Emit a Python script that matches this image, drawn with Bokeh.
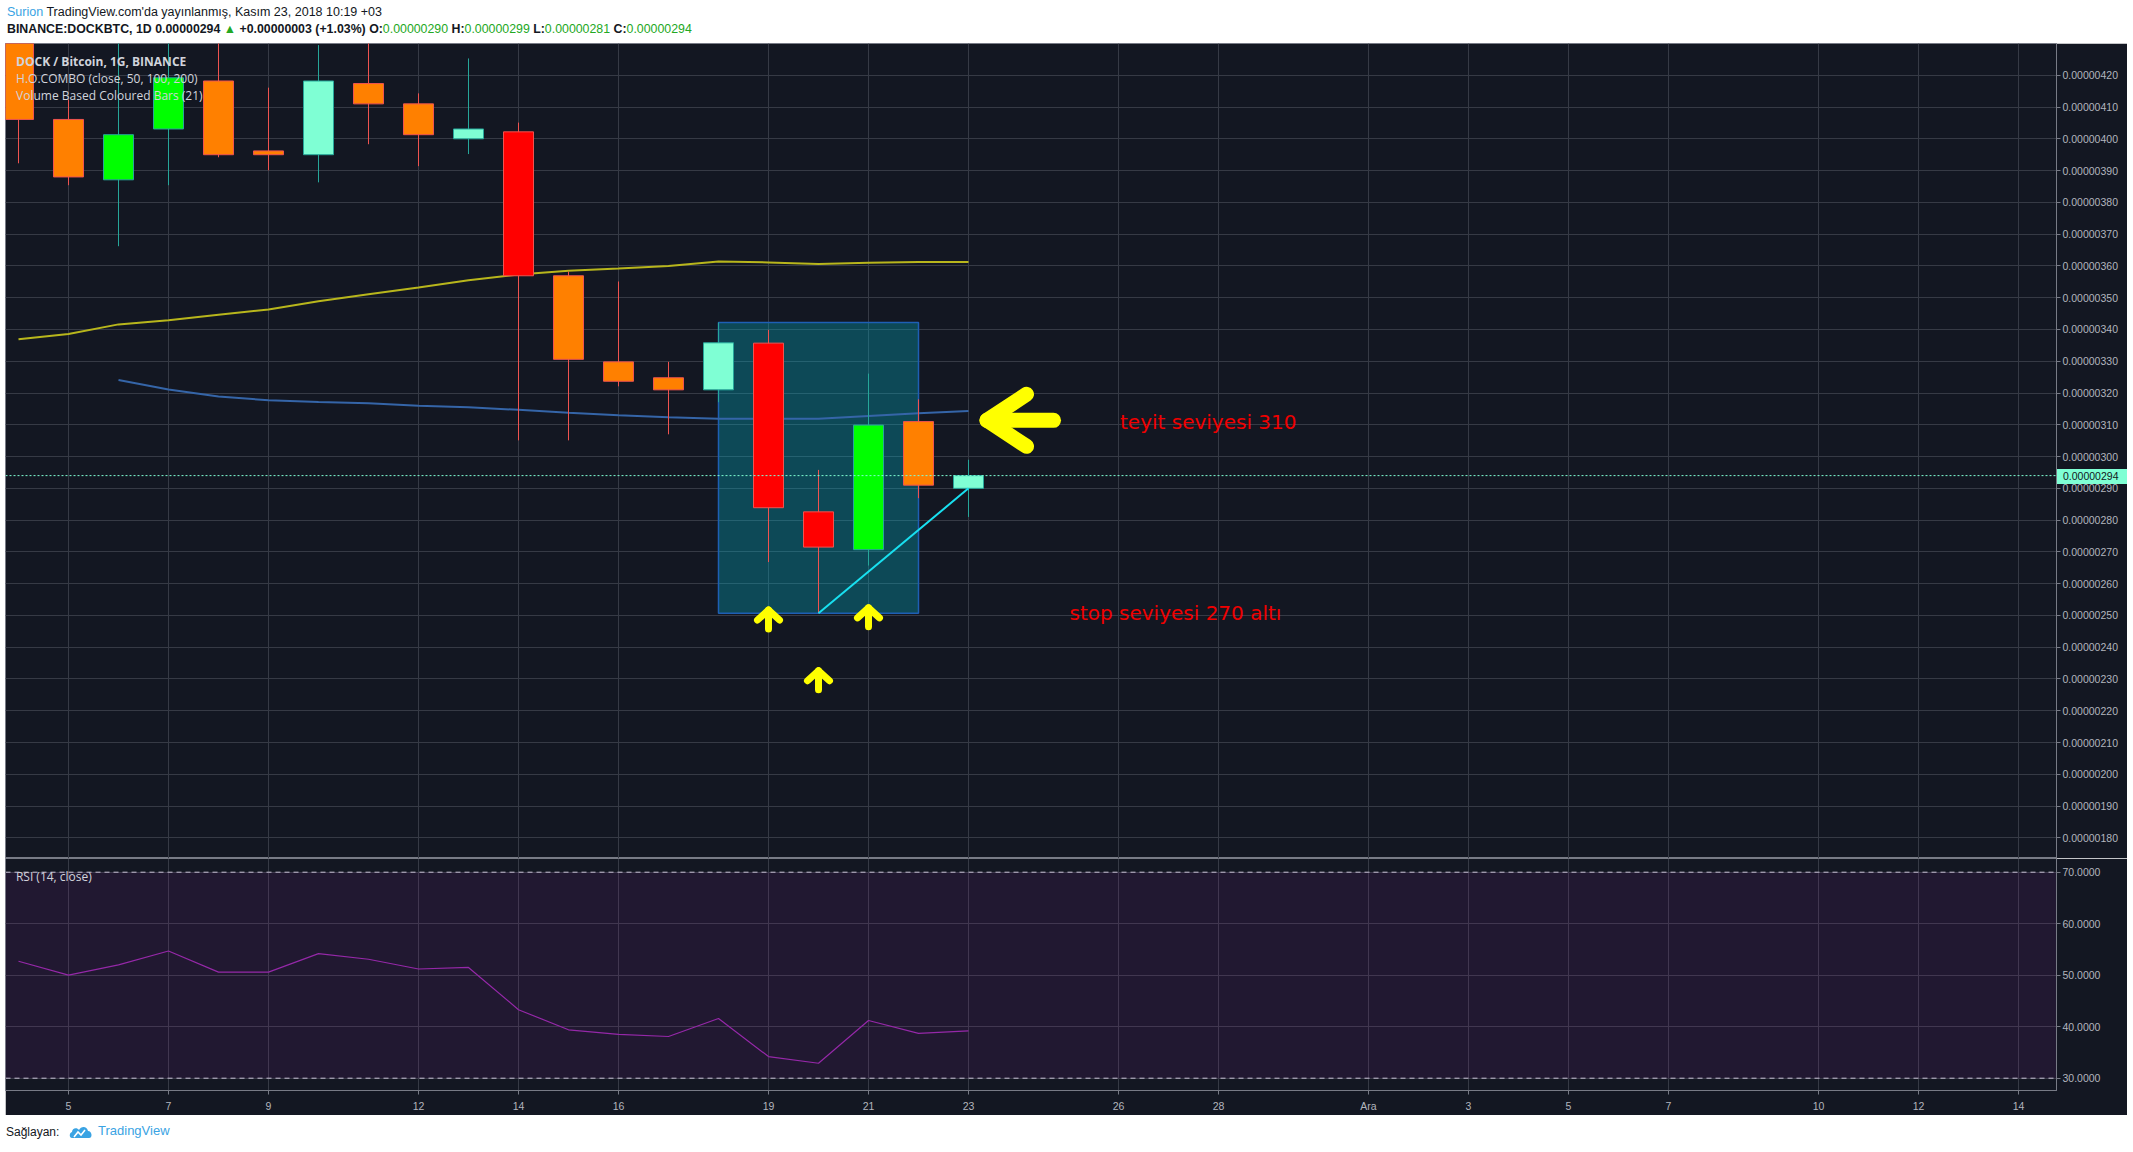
import numpy as np
from bokeh.plotting import figure
from bokeh.layouts import column, row
from bokeh.models import (FixedTicker, CustomJSTickFormatter, Span,
                          BoxAnnotation, Grid, Div, Spacer, Range1d)
from bokeh.core.properties import value
from bokeh.embed import file_html
from bokeh.resources import INLINE

# ---------------- data: DOCK/BTC daily candles, November 2018 (prices in satoshi, 1e-8 BTC) ----
days = [4, 5, 6, 7, 8, 9, 10, 11, 12, 13, 14, 15, 16, 17, 18, 19, 20, 21, 22, 23]  # day of November
opens = [436.0, 406.1, 387.1, 403.1, 418.2, 396.2, 395.0, 417.4, 411.0, 400.0,
         402.2, 356.9, 329.8, 324.8, 321.0, 335.7, 282.6, 270.7, 311.0, 290.0]
highs = [442.0, 412.3, 432.0, 431.0, 433.0, 416.1, 429.5, 432.0, 414.3, 425.3,
         405.1, 358.2, 355.1, 329.8, 342.2, 339.9, 295.8, 326.1, 318.0, 299.0]
lows = [392.3, 385.4, 366.2, 385.4, 394.2, 390.1, 386.3, 398.3, 391.4, 395.2,
        305.1, 305.1, 322.1, 307.0, 317.1, 266.8, 250.7, 265.7, 286.9, 281.0]
closes = [406.1, 388.0, 401.3, 419.2, 395.0, 395.0, 418.2, 411.0, 401.3, 403.1,
          356.9, 330.6, 323.7, 321.0, 335.8, 283.9, 271.5, 309.9, 291.0, 294.0]
high_volume = [False, False, True, True, False, False, False, False, False, False,
               True, False, False, False, False, True, True, True, False, False]

ma50 = [336.9, 338.6, 341.6, 342.9, 344.6, 346.3, 348.9, 351.1, 353.2, 355.5,
        357.3, 358.5, 359.2, 360.0, 361.4, 361.1, 360.6, 361.0, 361.2, 361.2]   # days 4..23
ma100_days = [6, 7, 8, 9, 10, 11, 12, 13, 14, 15, 16, 17, 18, 19, 20, 21, 22, 23]
ma100 = [324.1, 321.1, 318.9, 317.7, 317.2, 316.8, 316.0, 315.5, 314.7, 313.8,
         313.0, 312.4, 311.9, 311.9, 311.9, 312.8, 313.6, 314.3]

rsi = [52.7, 50.0, 52.0, 54.7, 50.6, 50.6, 54.2, 53.1, 51.2, 51.5,
       43.3, 39.4, 38.5, 38.1, 41.6, 34.2, 32.9, 41.2, 38.7, 39.2]             # days 4..23

x_tick_days = [5, 7, 9, 12, 14, 16, 19, 21, 23, 26, 28, 31, 33, 35, 37, 40, 42, 44]
x_tick_labels = ["5", "7", "9", "12", "14", "16", "19", "21", "23", "26", "28",
                 "Ara", "3", "5", "7", "10", "12", "14"]
price_ticks = [180, 190, 200, 210, 220, 230, 240, 250, 260, 270, 280, 290, 300,
               310, 320, 330, 340, 350, 360, 370, 380, 390, 400, 410, 420]
rsi_ticks = [30, 40, 50, 60, 70]
rsi_upper, rsi_lower = 70, 30

# drawings
box_days = (18, 22)                       # rectangle from Nov 18 to Nov 22
box_top = highs[days.index(18)]
box_bottom = lows[days.index(20)]
trend_days = (20, 23)
trend_prices = (lows[days.index(20)], opens[days.index(23)])
up_arrow_days = [19, 20, 21]
up_arrow_tips = [251.7, 232.6, 252.4]
pointer_day, pointer_price = 23.37, 311.4
note_teyit = (26.03, 310.8, "teyit seviyesi 310")
note_stop = (25.02, 250.9, "stop seviyesi 270 altı")

S = 1e-8
BG = "#131722"
GRID = "#363a45"
FRAME = "#787b86"
AXIS_TXT = "#b2b5be"

X0, X1 = 3.74, 44.76
P0, P1 = 173.5, 430.0
R0, R1 = 27.61, 72.66
LEFT_PAD = 5
HEADER_H = 43
FIG_W = 2122
RIGHT = 71
PRICE_H = 815
RSI_FRAME_H = 232
BOTTOM = 25
PX_DAY = (FIG_W - RIGHT) / (X1 - X0)
PX_SAT = PRICE_H / (P1 - P0)
PX_RSI = RSI_FRAME_H / (R1 - R0)

def dx(px):
    return px / PX_DAY

def dy(px):
    return px / PX_SAT

# ---------------- price pane ----------------
p = figure(width=FIG_W, height=PRICE_H, x_range=Range1d(X0, X1), y_range=Range1d(P0 * S, P1 * S),
           output_backend="svg", toolbar_location=None, x_axis_location=None,
           y_axis_location="right", min_border_left=0, min_border_top=0,
           min_border_bottom=0, min_border_right=RIGHT,
           background_fill_color=BG, border_fill_color=BG, outline_line_color=FRAME)

p.yaxis.ticker = FixedTicker(ticks=[t * S for t in price_ticks])
p.yaxis.formatter = CustomJSTickFormatter(code="return tick.toFixed(8);")
for ax in p.yaxis:
    ax.major_tick_out = 4
    ax.major_tick_in = 0
    ax.minor_tick_line_color = None
    ax.axis_line_color = FRAME
    ax.major_tick_line_color = FRAME
    ax.major_label_text_color = AXIS_TXT
    ax.major_label_text_font = "Liberation Sans"
    ax.major_label_text_font_size = "10.5px"
    ax.major_label_standoff = 2
p.ygrid.grid_line_color = GRID
if len(p.xgrid) > 0:
    for g in p.xgrid:
        g.ticker = FixedTicker(ticks=x_tick_days)
        g.grid_line_color = GRID
else:
    p.add_layout(Grid(dimension=0, ticker=FixedTicker(ticks=x_tick_days), grid_line_color=GRID))

# rectangle drawing
p.quad(left=[box_days[0]], right=[box_days[1]], top=[box_top * S], bottom=[box_bottom * S],
       fill_color="#00bcd4", fill_alpha=0.3, line_color="#1e5fb4", line_width=1.5)

# moving averages
p.line(days, [v * S for v in ma50], line_color="#b8b61c", line_width=2)
p.line(ma100_days, [v * S for v in ma100], line_color="#3565a8", line_width=2)

# candles
bull = [c >= o for o, c in zip(opens, closes)]
body_col = []
for b, hv in zip(bull, high_volume):
    if b:
        body_col.append("#00ff00" if hv else "#7fffd4")
    else:
        body_col.append("#ff0000" if hv else "#ff8000")
edge_col = ["#26a69a" if b else "#ef5350" for b in bull]
p.segment(x0=days, y0=[v * S for v in lows], x1=days, y1=[v * S for v in highs],
          line_color=edge_col, line_width=1)
p.vbar(x=days, width=0.6, top=[max(o, c) * S for o, c in zip(opens, closes)],
       bottom=[min(o, c) * S for o, c in zip(opens, closes)],
       fill_color=body_col, line_color=edge_col, line_width=1)

# trend line
p.line(list(trend_days), [v * S for v in trend_prices], line_color="#18e0f0", line_width=2)

# yellow arrows
xs, ys = [], []
for d, t in zip(up_arrow_days, up_arrow_tips):
    xs.append([d - dx(11), d, d + dx(11)])
    ys.append([(t - dy(10)) * S, t * S, (t - dy(10)) * S])
    xs.append([d, d])
    ys.append([t * S, (t - dy(19)) * S])
p.multi_line(xs, ys, line_color="#ffff00", line_width=7, line_cap="round", line_join="round")
d, t = pointer_day, pointer_price
p.multi_line([[d + dx(39.5), d, d + dx(39.5)], [d, d + dx(66.5)]],
             [[(t + dy(26)) * S, t * S, (t - dy(26)) * S], [t * S, t * S]],
             line_color="#ffff00", line_width=15, line_cap="round", line_join="round")

# notes
for nx, ny, txt in (note_teyit, note_stop):
    p.text(x=[nx], y=[ny * S], text=[txt], text_color="#f00000", text_font=value("DejaVu Sans"),
           text_font_size="20px", text_baseline="middle", text_align="left")

# current price line
last = closes[-1]
p.add_layout(Span(location=last * S, dimension="width", line_color="#7fffd4",
                  line_dash="2 2", line_width=1))

# legend text (top-left)
legend_lines = ["DOCK / Bitcoin, 1G, BINANCE", "H.O.COMBO (close, 50, 100, 200)",
                "Volume Based Coloured Bars (21)"]
for i, (txt, off) in enumerate(zip(legend_lines, [17.7, 35.0, 51.7])):
    p.text(x=[X0 + dx(10.6)], y=[(P1 - dy(off)) * S], text=[txt], text_color="#d1d4dc",
           text_font=value("Open Sans"), text_font_size="12px",
           text_font_style="bold" if i == 0 else "normal",
           text_baseline="middle", text_align="left")

# ---------------- RSI pane ----------------
r = figure(width=FIG_W, height=RSI_FRAME_H + BOTTOM, x_range=p.x_range, y_range=Range1d(R0, R1),
           output_backend="svg", toolbar_location=None, y_axis_location="right",
           min_border_left=0, min_border_top=0, min_border_bottom=BOTTOM, min_border_right=RIGHT,
           background_fill_color=BG, border_fill_color=BG, outline_line_color=FRAME)
r.add_layout(BoxAnnotation(bottom=rsi_lower, top=rsi_upper, fill_color="#9c27b0", fill_alpha=0.11,
                           line_color=None, level="underlay"))
r.yaxis.ticker = FixedTicker(ticks=rsi_ticks)
r.yaxis.formatter = CustomJSTickFormatter(code="return tick.toFixed(4);")
r.xaxis.ticker = FixedTicker(ticks=x_tick_days)
r.xaxis.major_label_overrides = {dd: lb for dd, lb in zip(x_tick_days, x_tick_labels)}
for ax in list(r.yaxis) + list(r.xaxis):
    ax.major_tick_out = 4
    ax.major_tick_in = 0
    ax.minor_tick_line_color = None
    ax.axis_line_color = FRAME
    ax.major_tick_line_color = FRAME
    ax.major_label_text_color = AXIS_TXT
    ax.major_label_text_font = "Liberation Sans"
    ax.major_label_text_font_size = "10.5px"
r.yaxis.major_label_standoff = 2
r.xaxis.major_label_standoff = 5
r.xgrid.grid_line_color = GRID
r.ygrid.grid_line_color = GRID
for lvl in (rsi_upper, rsi_lower):
    r.add_layout(Span(location=lvl, dimension="width", line_color="#c9c3d6",
                      line_dash="5 4", line_width=1))
r.line(days, rsi, line_color="#9528a8", line_width=1.2)
r.text(x=[X0 + dx(10.4)], y=[R1 - 18 / PX_RSI], text=["RSI (14, close)"], text_color="#d1d4dc",
       text_font=value("Open Sans"), text_font_size="12px", text_baseline="middle",
       text_align="left")

# ---------------- header / footer ----------------
prev = closes[-2]
chg = last - prev
pct = chg / prev * 100
G = "#23a823"
header = Div(width=2133, height=HEADER_H, margin=0, text=(
    "<div style=\"position:relative;width:2133px;height:43px;font-family:'Liberation Sans',Arial,sans-serif;"
    "font-size:12.5px;color:#131722;\">"
    "<div style='position:absolute;left:7px;top:4px;line-height:16px;white-space:nowrap;'>"
    "<span style='color:#3aa3e3'>Surion</span> TradingView.com'da yayınlanmış, Kasım 23, 2018 10:19 +03</div>"
    "<div style='position:absolute;left:7px;top:21px;line-height:16px;white-space:nowrap;font-weight:bold;font-size:12.35px'>"
    f"BINANCE:DOCKBTC, 1D {last * S:.8f} <span style='color:{G}'>▲</span> "
    f"+{chg * S:.8f} (+{pct:.2f}%) "
    f"O:<span style='color:{G};font-weight:normal'>{opens[-1] * S:.8f}</span> "
    f"H:<span style='color:{G};font-weight:normal'>{highs[-1] * S:.8f}</span> "
    f"L:<span style='color:{G};font-weight:normal'>{lows[-1] * S:.8f}</span> "
    f"C:<span style='color:{G};font-weight:normal'>{closes[-1] * S:.8f}</span></div></div>"))

footer = Div(width=2133, height=37, margin=0, text=(
    "<div style=\"position:relative;width:2133px;height:37px;font-family:'Liberation Sans',Arial,sans-serif;"
    "font-size:12px;color:#131722;\">"
    "<div style='position:absolute;left:6px;top:9px;line-height:16px;white-space:nowrap;'>Sağlayan:</div>"
    "<svg style='position:absolute;left:69px;top:10px' width='24' height='14' viewBox='0 0 24 14'>"
    "<path d='M3 13 C0 13 0 8 3 7 C3 3 8 2 10 5 C12 1 18 1 19 6 C23 6 24 13 20 13 Z' fill='#3aa3e3'/>"
    "<path d='M5 12 L9 7 L12 10 L16 5' stroke='white' stroke-width='1.6' fill='none'/></svg>"
    "<div style='position:absolute;left:98px;top:8px;line-height:16px;white-space:nowrap;font-size:13px;"
    "color:#3aa3e3'>TradingView</div></div>"))

# price tag on the price scale (current close), placed over the axis strip
tag_top = HEADER_H + (P1 - last) * PX_SAT - 7.5
tag_left = LEFT_PAD + FIG_W - RIGHT + 1
price_tag = Div(width=RIGHT - 1, height=15, margin=0,
                styles={"position": "absolute", "left": f"{tag_left:.1f}px", "top": f"{tag_top:.1f}px",
                        "z-index": "50"},
                text=("<div style=\"width:70px;height:15px;background:#7fffd4;color:#131722;"
                      "font-family:'Liberation Sans',Arial,sans-serif;font-size:10.5px;line-height:15px;"
                      f"padding-left:6px;box-sizing:border-box;white-space:nowrap\">{last * S:.8f}</div>"))

layout = column(header, row(Spacer(width=LEFT_PAD, height=PRICE_H + RSI_FRAME_H + BOTTOM, margin=0),
                            column(p, r)), footer, price_tag)
open("out.html", "w").write(file_html(layout, INLINE))
